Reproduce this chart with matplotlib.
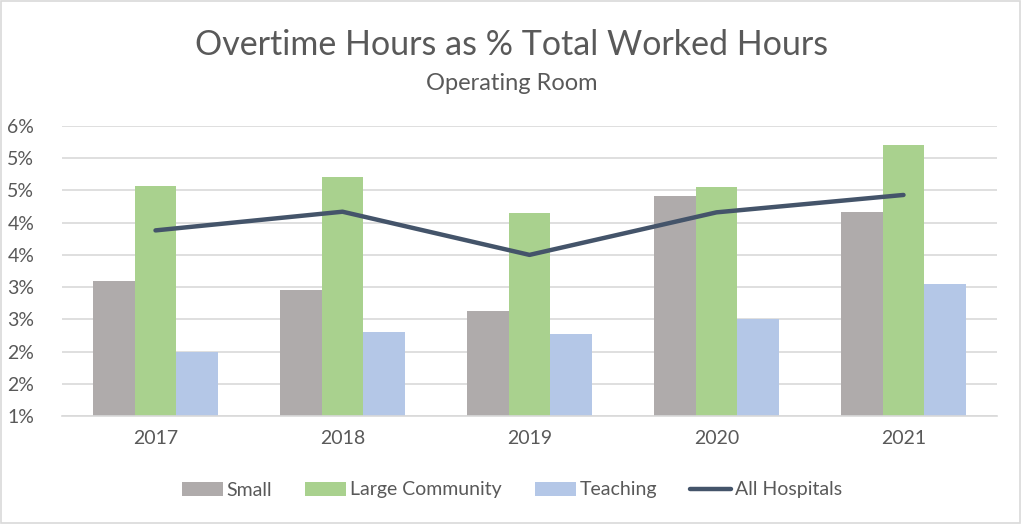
import matplotlib
matplotlib.use("Agg")
import matplotlib.pyplot as plt
import numpy as np
from matplotlib.patches import Rectangle

years = ["2017", "2018", "2019", "2020", "2021"]
small = [3.10, 2.96, 2.63, 4.41, 4.17]
large_community = [4.57, 4.71, 4.15, 4.55, 5.20]
teaching = [2.00, 2.31, 2.27, 2.51, 3.05]
all_hospitals = [3.88, 4.17, 3.50, 4.16, 4.43]
y_ticks = [1.0, 1.5, 2.0, 2.5, 3.0, 3.5, 4.0, 4.5, 5.0, 5.5]
y_tick_labels = ["1%", "2%", "2%", "3%", "3%", "4%", "4%", "5%", "5%", "6%"]

plt.rcParams['font.family'] = ['Lato', 'DejaVu Sans']
txt = "#595959"

fig = plt.figure(figsize=(10.24, 5.27), dpi=100)
ax = fig.add_axes([62/1024, 1-416/527, (997-62)/1024, (416-126)/527])

x = np.arange(len(years))
w = 0.222
ax.bar(x - w, small, w, color="#AFABAB", label="Small", zorder=2)
ax.bar(x, large_community, w, color="#A9D18E", label="Large Community", zorder=2)
ax.bar(x + w, teaching, w, color="#B4C7E7", label="Teaching", zorder=2)
ax.plot(x, all_hospitals, color="#44546A", lw=3.2, label="All Hospitals", zorder=3,
        solid_capstyle="round", solid_joinstyle="round")

ax.set_xlim(-0.5, len(years) - 0.5)
ax.set_ylim(1.0, 5.5)
ax.set_yticks(y_ticks)
ax.set_yticklabels(y_tick_labels)
ax.set_xticks(x)
ax.set_xticklabels(years)
ax.yaxis.grid(True, color="#D9D9D9", lw=1.2, zorder=0)
ax.set_axisbelow(True)
for s in ["top", "right", "left"]:
    ax.spines[s].set_visible(False)
ax.spines["bottom"].set_color("#D9D9D9")
ax.spines["bottom"].set_linewidth(1.2)
ax.tick_params(axis="both", length=0, labelsize=14, colors=txt)
ax.tick_params(axis="y", pad=20)
ax.tick_params(axis="x", pad=10)

fig.text(0.5, 1-45/527, "Overtime Hours as % Total Worked Hours", ha="center", va="center",
         fontsize=24.5, color=txt)
fig.text(0.5, 1-83/527, "Operating Room", ha="center", va="center", fontsize=17, color=txt)

handles, labels = ax.get_legend_handles_labels()
order = [1, 2, 3, 0]
fig.legend([handles[i] for i in order], [labels[i] for i in order],
           loc="center", bbox_to_anchor=(0.5, 1-490/527), ncol=4, frameon=False,
           fontsize=14, labelcolor=txt, handlelength=2.1, handleheight=0.7,
           handletextpad=0.2, columnspacing=1.7)

fig.patches.append(Rectangle((0.001, 0.008), 0.995, 0.99, transform=fig.transFigure,
                             fill=False, edgecolor="#D9D9D9", lw=1.2))

fig.savefig("out.png", dpi=100, facecolor="white")
